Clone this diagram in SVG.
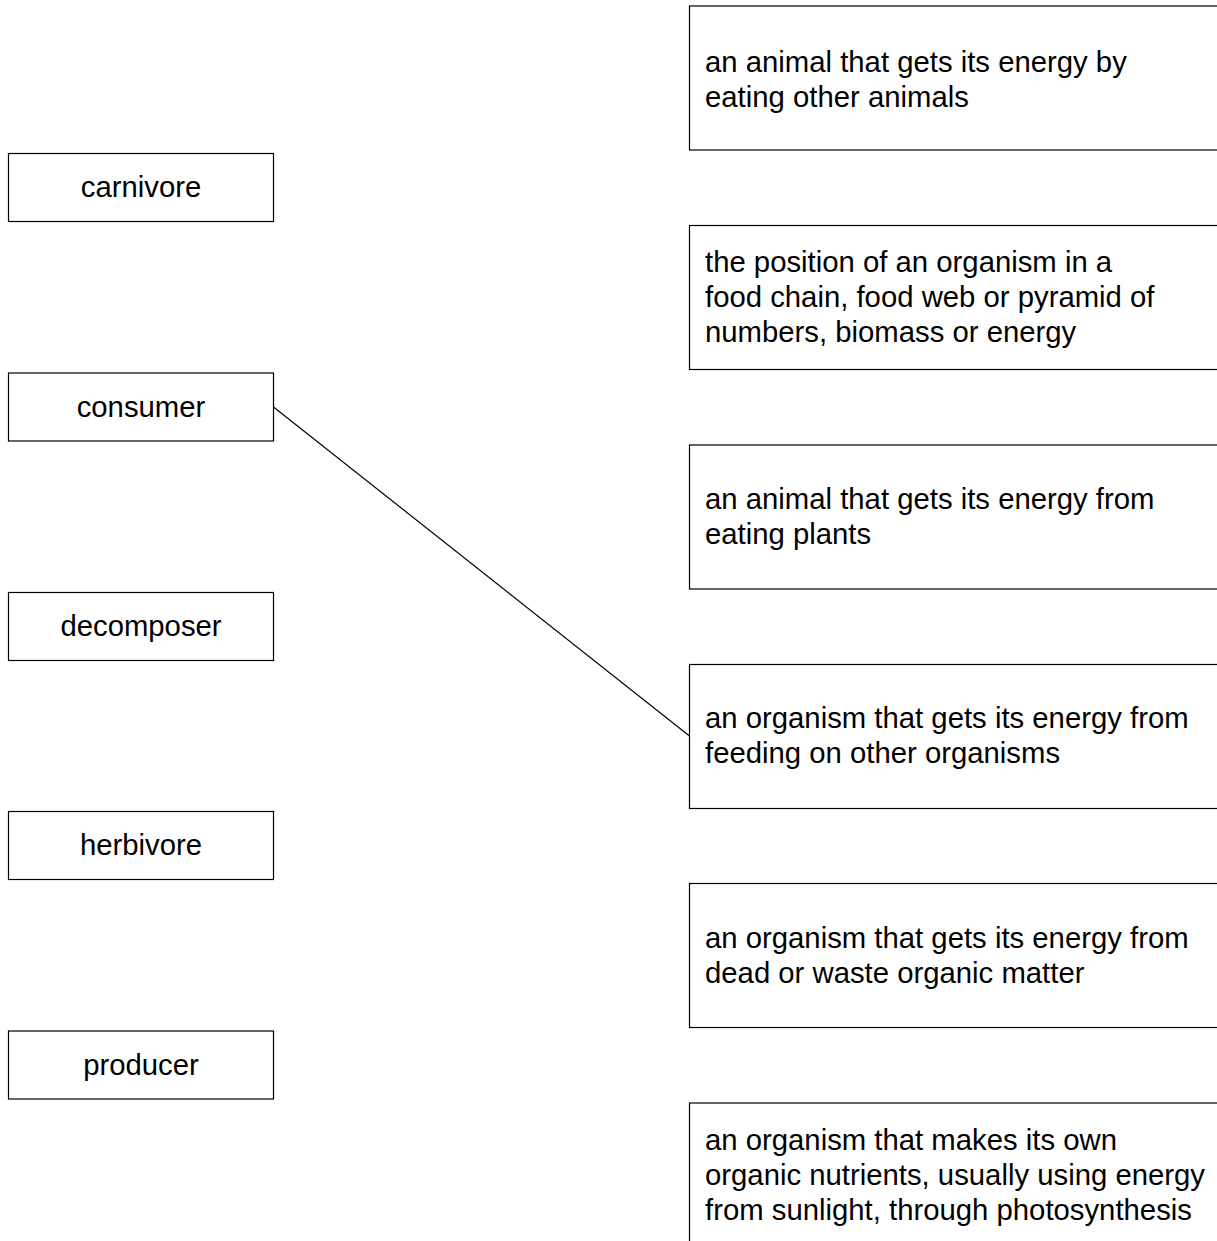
<svg xmlns="http://www.w3.org/2000/svg" width="1217" height="1241" viewBox="0 0 1217 1241">
<style>
.box{fill:#fff;stroke:#000;stroke-width:1.2}
.t{font-family:"Liberation Sans",Arial,sans-serif;font-size:29.3px;fill:#000}
.c{text-anchor:middle}
.ln{stroke:#000;stroke-width:1.2;fill:none}
</style>
<rect width="1217" height="1241" fill="#fff"/>
<g id="carnivore"><rect class="box" x="8.5" y="153.5" width="265" height="68"/><text class="t c" x="141" y="197">carnivore</text></g>
<g id="consumer"><rect class="box" x="8.5" y="373" width="265" height="68"/><text class="t c" x="141" y="417">consumer</text></g>
<g id="decomposer"><rect class="box" x="8.5" y="592.5" width="265" height="68"/><text class="t c" x="141" y="636">decomposer</text></g>
<g id="herbivore"><rect class="box" x="8.5" y="811.5" width="265" height="68"/><text class="t c" x="141" y="855">herbivore</text></g>
<g id="producer"><rect class="box" x="8.5" y="1031" width="265" height="68"/><text class="t c" x="141" y="1075">producer</text></g>
<g id="def1"><rect class="box" x="689.5" y="6" width="540" height="144"/><text class="t" x="705" y="72">an animal that gets its energy by</text><text class="t" x="705" y="107">eating other animals</text></g>
<g id="def2"><rect class="box" x="689.5" y="225.5" width="540" height="144"/><text class="t" x="705" y="272">the position of an organism in a</text><text class="t" x="705" y="307">food chain, food web or pyramid of</text><text class="t" x="705" y="342">numbers, biomass or energy</text></g>
<g id="def3"><rect class="box" x="689.5" y="445" width="540" height="144"/><text class="t" x="705" y="509">an animal that gets its energy from</text><text class="t" x="705" y="544">eating plants</text></g>
<g id="def4"><rect class="box" x="689.5" y="664.5" width="540" height="144"/><text class="t" x="705" y="728">an organism that gets its energy from</text><text class="t" x="705" y="763">feeding on other organisms</text></g>
<g id="def5"><rect class="box" x="689.5" y="883.5" width="540" height="144"/><text class="t" x="705" y="948">an organism that gets its energy from</text><text class="t" x="705" y="983">dead or waste organic matter</text></g>
<g id="def6"><rect class="box" x="689.5" y="1103" width="540" height="144"/><text class="t" x="705" y="1150">an organism that makes its own</text><text class="t" x="705" y="1185">organic nutrients, usually using energy</text><text class="t" x="705" y="1220">from sunlight, through photosynthesis</text></g>
<g id="connectors"><line class="ln" x1="273.5" y1="407" x2="689.5" y2="736"/></g>
</svg>
